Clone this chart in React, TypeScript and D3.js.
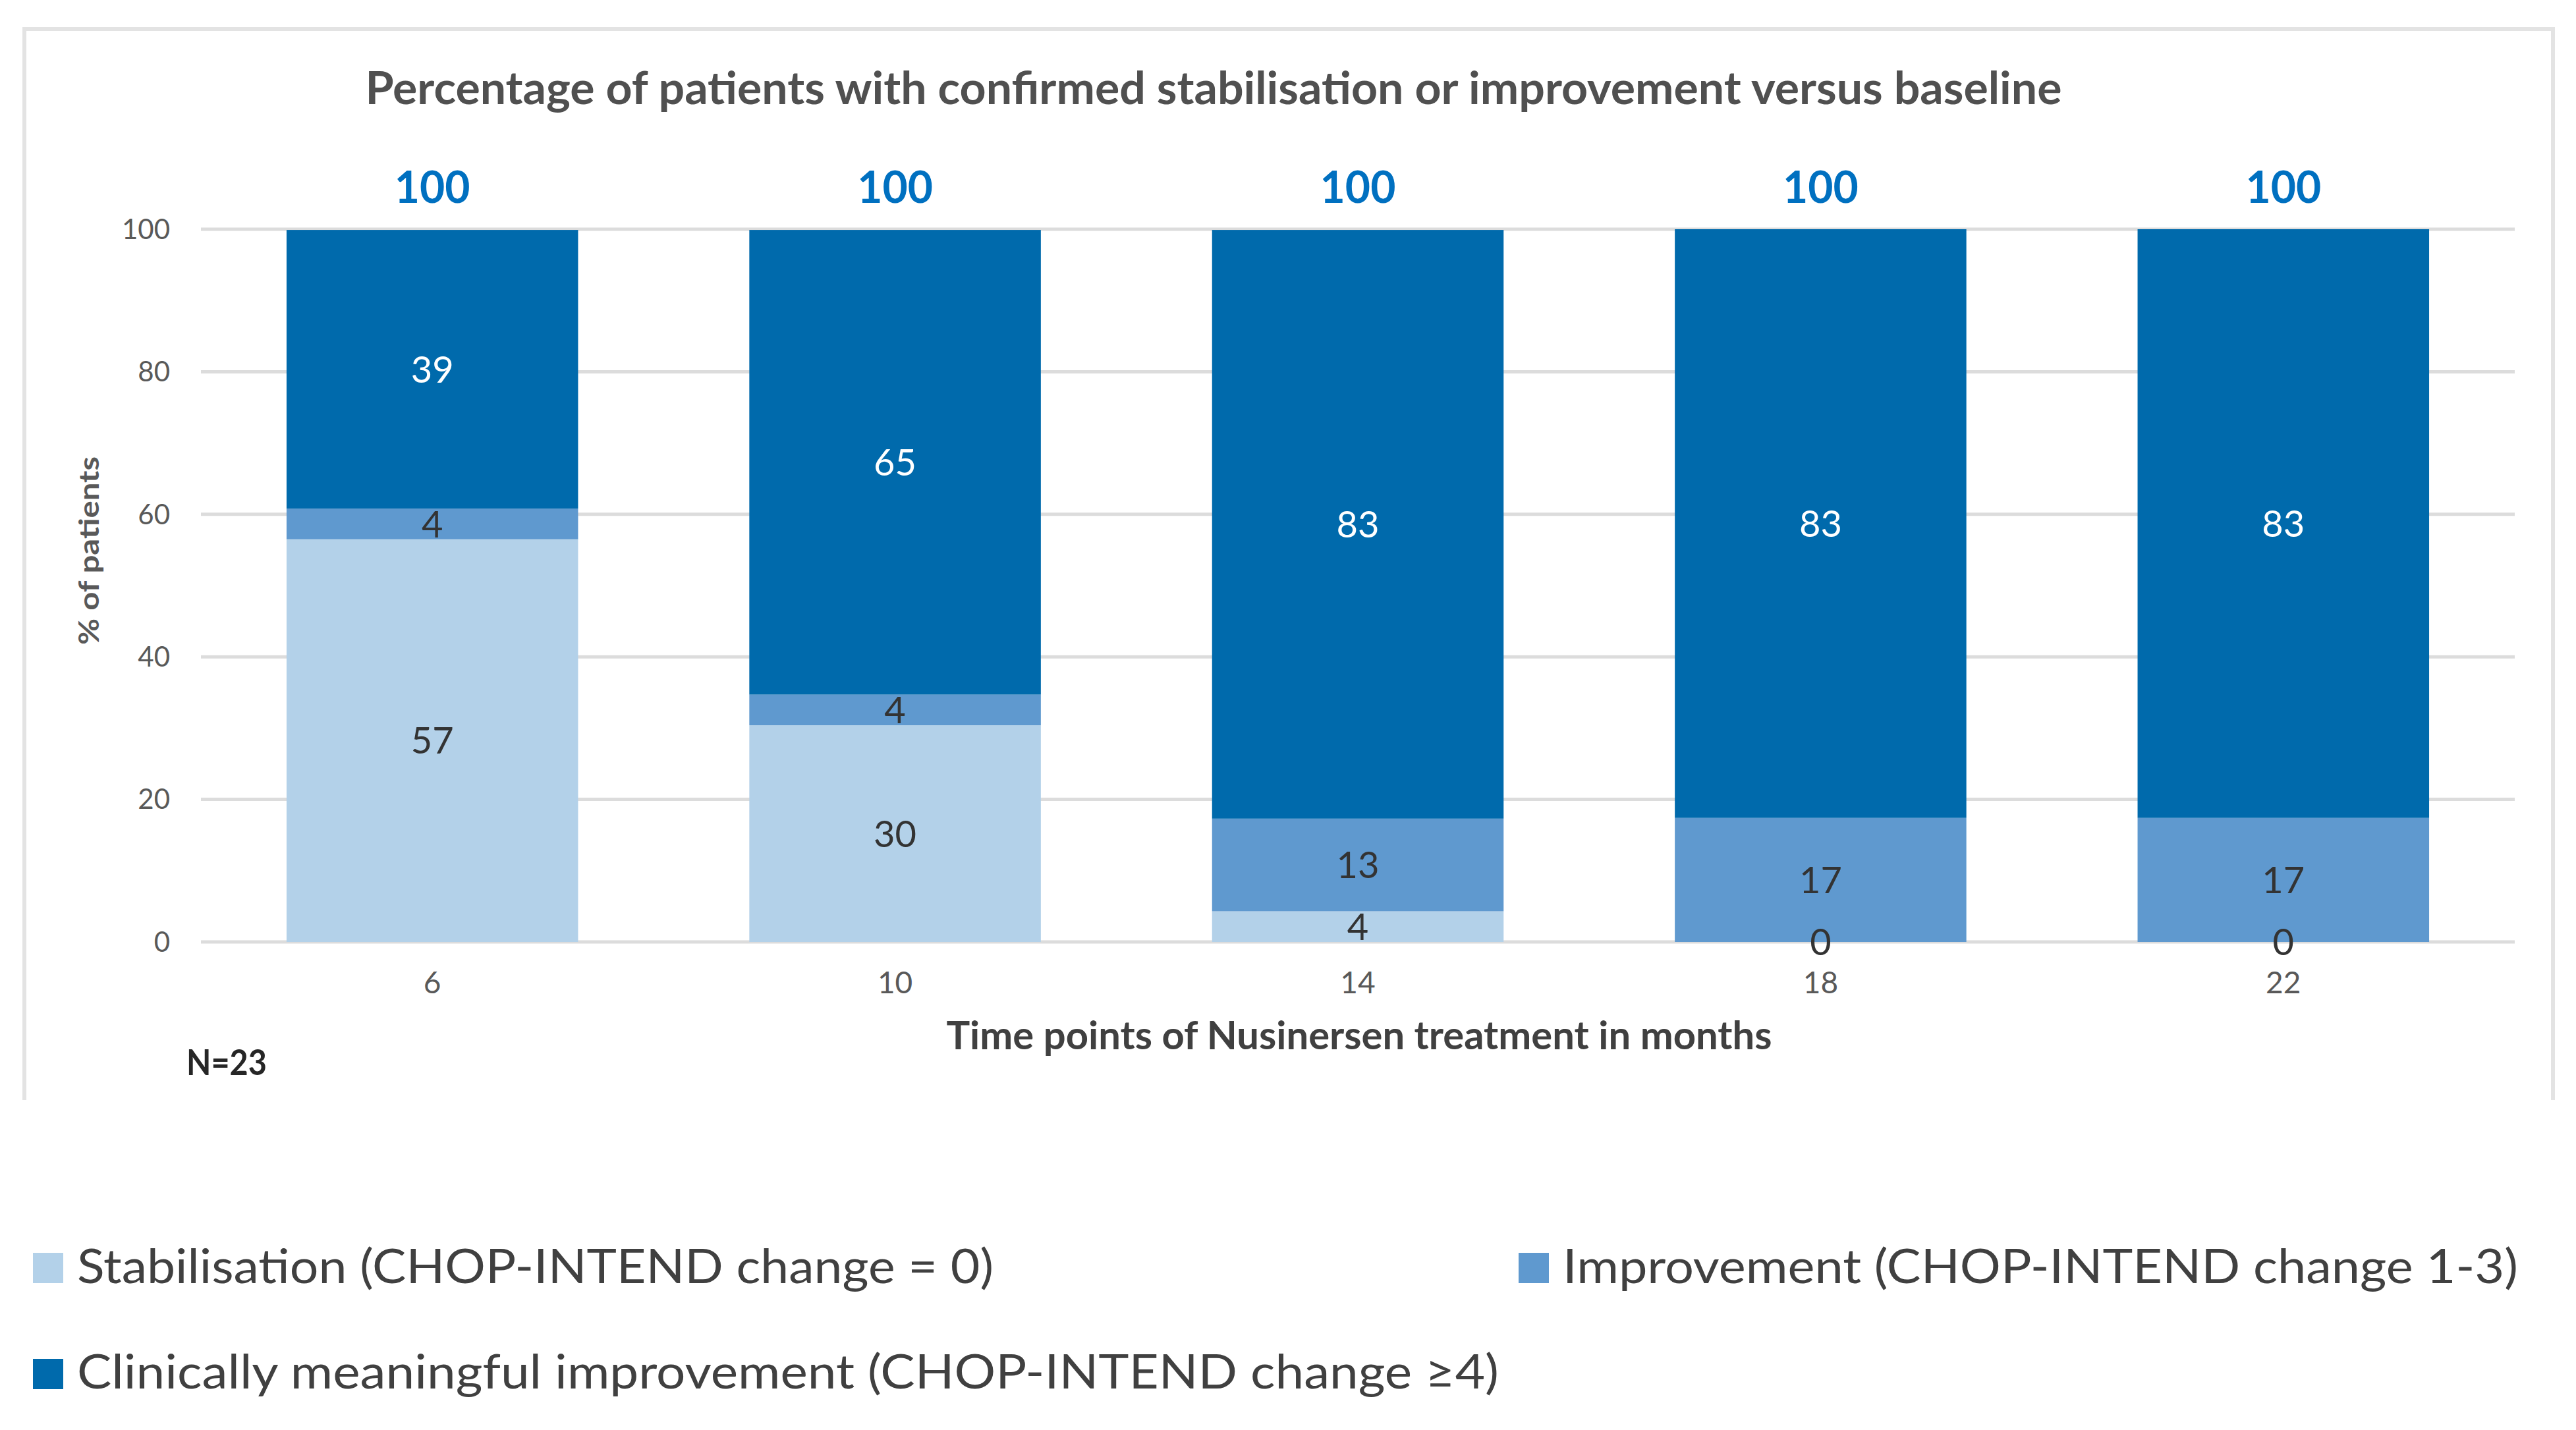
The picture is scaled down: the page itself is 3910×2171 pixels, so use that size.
import React from 'react';
import * as d3 from 'd3';

const months = ['6', '10', '14', '18', '22'];
const stabilisation = [56.5, 30.4, 4.3, 0, 0];
const improvement = [4.3, 4.3, 13.0, 17.4, 17.4];
const clinical = [39.1, 65.2, 82.6, 82.6, 82.6];
const totals = [100, 100, 100, 100, 100];
const yTicks = [0, 20, 40, 60, 80, 100];

const seriesNames = [
  'Stabilisation (CHOP-INTEND change = 0)',
  'Improvement (CHOP-INTEND change 1-3)',
  'Clinically meaningful improvement (CHOP-INTEND change \u22654)',
];
const seriesColors = ['#b3d1e9', '#5f99cf', '#006aac'];
const labelColors = ['#333333', '#333333', '#ffffff'];

const W = 3910;
const H = 2171;
const FONT = 'Lato, "Open Sans", sans-serif';

type Row = { month: string; s0: number; s1: number; s2: number };

export default function App() {
  const rows: Row[] = months.map((m, i) => ({
    month: m,
    s0: stabilisation[i],
    s1: improvement[i],
    s2: clinical[i],
  }));
  const keys = ['s0', 's1', 's2'] as const;
  const stacked = d3.stack<Row>().keys(keys as unknown as string[])(rows);

  const x = d3.scaleBand<string>().domain(months).range([305, 3817]).paddingInner(0.37).paddingOuter(0.185);
  const y = d3.scaleLinear().domain([0, 100]).range([1430, 348]);
  const bw = x.bandwidth();

  // legend layout
  const legend = [
    { x: 50, y: 1902, tx: 117, ty: 1948, len: 1391 },
    { x: 2305, y: 1902, tx: 2372, ty: 1948, len: 1450 },
    { x: 50, y: 2063, tx: 117, ty: 2108, len: 2158 },
  ];

  return (
    <div style={{ position: 'absolute', left: 0, top: 0 }}>
      <svg width={W} height={H} style={{ display: 'block', background: '#fff' }} fontFamily={FONT}>
        <rect x={0} y={0} width={W} height={H} fill="#fff" />
        {/* frame (cropped at the bottom) */}
        <path d="M37,1670 V44 H3875 V1670" fill="none" stroke="#e3e3e3" strokeWidth={6} />

        <text x={1842} y={158} textAnchor="middle" fontSize={68} fontWeight="bold" fill="#505050"
          textLength={2575} lengthAdjust="spacingAndGlyphs">
          Percentage of patients with confirmed stabilisation or improvement versus baseline
        </text>

        {/* gridlines */}
        {yTicks.map(t => (
          <g key={t}>
            <line x1={305} x2={3817} y1={y(t)} y2={y(t)} stroke="#dcdcdc" strokeWidth={5} />
            <text x={258} y={y(t)} dy="0.35em" textAnchor="end" fontSize={42} fill="#595959">{t}</text>
          </g>
        ))}

        {/* bars */}
        {stacked.map((layer, li) => (
          <g key={layer.key} fill={seriesColors[li]}>
            {layer.map((d, i) => (
              <rect key={i} x={x(months[i])} y={y(d[1])} width={bw} height={Math.max(0, y(d[0]) - y(d[1]))} />
            ))}
          </g>
        ))}

        {/* segment labels */}
        {stacked.map((layer, li) => (
          <g key={'l' + layer.key}>
            {layer.map((d, i) => (
              <text key={i} x={(x(months[i]) ?? 0) + bw / 2} y={y((d[0] + d[1]) / 2)} dy="0.36em"
                textAnchor="middle" fontSize={56} fill={labelColors[li]}>
                {Math.round(d[1] - d[0])}
              </text>
            ))}
          </g>
        ))}

        {/* totals */}
        {totals.map((t, i) => (
          <text key={i} x={(x(months[i]) ?? 0) + bw / 2} y={308} textAnchor="middle" fontSize={66}
            fontWeight="bold" fill="#0070c0">{t}</text>
        ))}

        {/* x ticks */}
        {months.map(m => (
          <text key={m} x={(x(m) ?? 0) + bw / 2} y={1508} textAnchor="middle" fontSize={46} fill="#595959">{m}</text>
        ))}

        <text x={2063} y={1593} textAnchor="middle" fontSize={60} fontWeight="bold" fill="#404040"
          textLength={1253} lengthAdjust="spacingAndGlyphs">
          Time points of Nusinersen treatment in months
        </text>

        <text transform="translate(150,836) rotate(-90)" textAnchor="middle" fontSize={42} fontWeight="bold"
          fill="#595959" textLength={286} lengthAdjust="spacingAndGlyphs">% of patients</text>

        <text x={283} y={1632} fontSize={54} fontWeight="bold" fill="#262626" textLength={122}
          lengthAdjust="spacingAndGlyphs">N=23</text>

        {/* legend */}
        {seriesNames.map((name, i) => (
          <g key={name}>
            <rect x={legend[i].x} y={legend[i].y} width={46} height={46} fill={seriesColors[i]} />
            <text x={legend[i].tx} y={legend[i].ty} fontSize={72} fill="#404040"
              textLength={legend[i].len} lengthAdjust="spacingAndGlyphs">{name}</text>
          </g>
        ))}
      </svg>
    </div>
  );
}
